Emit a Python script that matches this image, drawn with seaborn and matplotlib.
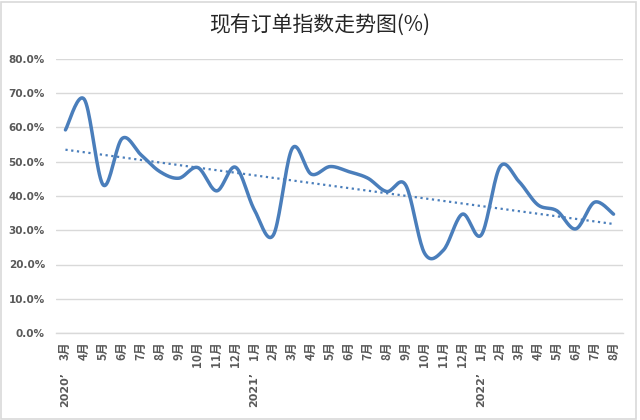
import numpy as np
import pandas as pd
import matplotlib
matplotlib.use("Agg")
import matplotlib.pyplot as plt
import matplotlib.transforms as mtransforms
from matplotlib.patches import Rectangle
import seaborn as sns

# ---- data ----
years = ["2020’"] * 10 + ["2021’"] * 12 + ["2022’"] * 8
months = [f"{m}月" for m in range(3, 13)] + [f"{m}月" for m in range(1, 13)] + [f"{m}月" for m in range(1, 9)]
values = [59.3, 68.2, 43.2, 56.8, 52.0, 47.1, 45.2, 48.3, 41.5, 48.4,
          35.9, 28.6, 53.9, 46.4, 48.6, 47.1, 45.2, 41.3, 43.2, 23.3,
          24.2, 34.7, 28.6, 48.6, 44.2, 37.4, 35.7, 30.4, 38.2, 34.7]
yticks = [0, 10, 20, 30, 40, 50, 60, 70, 80]
title = "现有订单指数走势图(%)"

LINE = "#4A7EBB"
GRID = "#D9D9D9"
TXT = "#595959"

sns.set_theme(style="white")
plt.rcParams['font.family'] = ['Noto Sans CJK SC', 'DejaVu Sans']

fig = plt.figure(figsize=(6.4, 4.2), dpi=100)
ax = fig.add_axes([56 / 640, 1 - 333 / 420, (623 - 56) / 640, (333 - 59) / 420])

idx = np.arange(len(values), dtype=float)
vals = np.array(values, dtype=float)


def smooth(x, y, n=20):
    # Excel-style smoothed line (cardinal Bezier segments)
    px, py = [], []
    N = len(x)
    for i in range(N - 1):
        p0 = np.array([x[i], y[i]])
        p3 = np.array([x[i + 1], y[i + 1]])
        pm = np.array([x[i - 1], y[i - 1]]) if i > 0 else p0
        pp = np.array([x[i + 2], y[i + 2]]) if i + 2 < N else p3
        c1 = p0 + (p3 - pm) / 6.0
        c2 = p3 - (pp - p0) / 6.0
        t = np.linspace(0, 1, n, endpoint=(i == N - 2))
        b = ((1 - t) ** 3)[:, None] * p0 + (3 * (1 - t) ** 2 * t)[:, None] * c1 \
            + (3 * (1 - t) * t ** 2)[:, None] * c2 + (t ** 3)[:, None] * p3
        px.extend(b[:, 0]); py.extend(b[:, 1])
    return np.array(px), np.array(py)


sx, sy = smooth(idx, vals)
curve = pd.DataFrame({"x": sx, "y": sy})
sns.lineplot(data=curve, x="x", y="y", sort=False, color=LINE, lw=2.5, ax=ax, zorder=3)
sns.regplot(x=idx, y=vals, scatter=False, ci=None, ax=ax, truncate=True,
            line_kws=dict(color=LINE, lw=1.6, ls=(0, (1, 1.6)), zorder=2))

ax.set_xlim(-0.5, len(values) - 0.5)
ax.set_ylim(0, 80)
ax.set_yticks(yticks)
ax.set_yticklabels([f"{v:.1f}%" for v in yticks], fontsize=7.5, fontweight='bold',
                   color=TXT, family=['DejaVu Sans'])
ax.set_xticks(idx)
ax.set_xticklabels(months, rotation=90, fontsize=8.5, fontweight='bold', color=TXT,
                   va='top', ha='center')
ax.tick_params(axis='both', length=0, pad=8)
ax.tick_params(axis='x', pad=6)
ax.grid(axis='y', color=GRID, lw=1)
ax.grid(axis='x', visible=False)
for s in ["left", "right", "top"]:
    ax.spines[s].set_visible(False)
ax.spines["bottom"].set_color(GRID)
ax.spines["bottom"].set_linewidth(1)
ax.set_xlabel("")
ax.set_ylabel("")

# year level labels
trans = mtransforms.blended_transform_factory(ax.transData, fig.transFigure)
prev = None
for i, y in enumerate(years):
    if y != prev:
        ax.text(i, 1 - 372 / 420, y, transform=trans, rotation=90, ha='center', va='top',
                fontsize=8, fontweight='bold', color=TXT, family=['DejaVu Sans'])
    prev = y

fig.text(0.5, 1 - 25 / 420, title, ha='center', va='center', fontsize=15, color='#262626',
         fontweight='medium')
fig.patches.append(Rectangle((0.002, 0.002), 0.992, 0.994, transform=fig.transFigure,
                             fill=False, edgecolor=GRID, lw=1.2))

fig.savefig("out.png", dpi=100)
